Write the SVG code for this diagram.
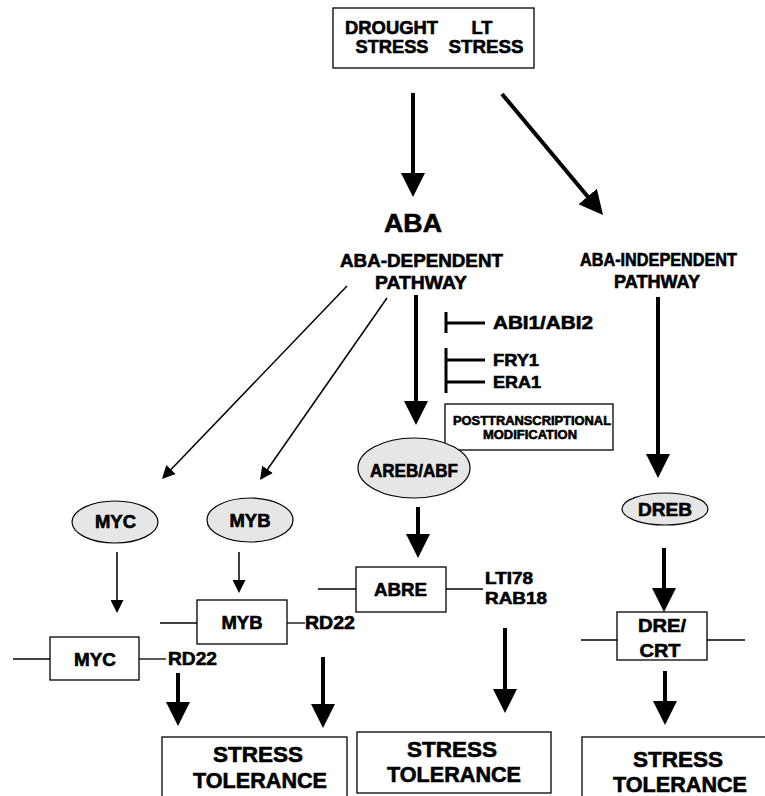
<svg xmlns="http://www.w3.org/2000/svg" width="765" height="796" viewBox="0 0 765 796">
  <defs>
    <style>
      .t { font-family: "Liberation Sans", Arial, sans-serif; font-weight: bold; fill: #000; stroke: #000; stroke-width: 0.6; text-anchor: middle; }
      .l { text-anchor: start; }
      .box { fill: #fff; stroke: #000; stroke-width: 1.3; }
      .ell { fill: #e6e6e6; stroke: #000; stroke-width: 1.2; }
      .thick { stroke: #000; stroke-width: 4; fill: none; }
      .thin { stroke: #000; stroke-width: 1.5; fill: none; }
      .site { stroke: #000; stroke-width: 1.3; fill: none; }
      .bar { stroke: #000; stroke-width: 3; fill: none; }
    </style>
    <marker id="headBig" markerUnits="userSpaceOnUse" markerWidth="24" markerHeight="24" viewBox="0 0 24 24" refX="1" refY="12" orient="auto">
      <path d="M0,0 L24,12 L0,24 z" fill="#000"/>
    </marker>
    <marker id="headSmall" markerUnits="userSpaceOnUse" markerWidth="13" markerHeight="13" viewBox="0 0 13 13" refX="1" refY="6.5" orient="auto">
      <path d="M0,0 L13,6.5 L0,13 z" fill="#000"/>
    </marker>
  </defs>
  <rect width="765" height="796" fill="#fff"/>

  <!-- stress inputs -->
  <g id="stress-input">
    <rect class="box" x="333" y="8" width="201" height="60"/>
    <text class="t" x="391.5" y="34" font-size="18.5" textLength="93" lengthAdjust="spacingAndGlyphs">DROUGHT</text>
    <text class="t" x="482" y="34" font-size="18.5" textLength="21" lengthAdjust="spacingAndGlyphs">LT</text>
    <text class="t" x="392" y="53" font-size="18.5" textLength="73" lengthAdjust="spacingAndGlyphs">STRESS</text>
    <text class="t" x="486" y="53" font-size="18.5" textLength="75" lengthAdjust="spacingAndGlyphs">STRESS</text>
  </g>

  <g id="aba">
    <text class="t" x="413" y="232" font-size="26" textLength="58" lengthAdjust="spacingAndGlyphs">ABA</text>
  </g>

  <g id="aba-dependent">
    <text class="t" x="421.5" y="267" font-size="19" textLength="163" lengthAdjust="spacingAndGlyphs">ABA-DEPENDENT</text>
    <text class="t" x="421" y="289" font-size="19" textLength="92" lengthAdjust="spacingAndGlyphs">PATHWAY</text>
  </g>

  <g id="aba-independent">
    <text class="t" x="658.5" y="266" font-size="17.5" textLength="157" lengthAdjust="spacingAndGlyphs">ABA-INDEPENDENT</text>
    <text class="t" x="657" y="288" font-size="17.5" textLength="86" lengthAdjust="spacingAndGlyphs">PATHWAY</text>
  </g>

  <!-- negative regulators -->
  <g id="abi">
    <text class="t l" x="493" y="329" font-size="18" textLength="100" lengthAdjust="spacingAndGlyphs">ABI1/ABI2</text>
  </g>
  <g id="fry1">
    <text class="t l" x="493" y="366" font-size="17" textLength="46" lengthAdjust="spacingAndGlyphs">FRY1</text>
  </g>
  <g id="era1">
    <text class="t l" x="493" y="388" font-size="17" textLength="48" lengthAdjust="spacingAndGlyphs">ERA1</text>
  </g>

  <g id="posttranscriptional">
    <rect class="box" x="445" y="404" width="168" height="46"/>
    <text class="t" x="532" y="425" font-size="13" textLength="158" lengthAdjust="spacingAndGlyphs">POSTTRANSCRIPTIONAL</text>
    <text class="t" x="530" y="439" font-size="13" textLength="94" lengthAdjust="spacingAndGlyphs">MODIFICATION</text>
  </g>

  <!-- transcription factors -->
  <g id="myc-tf">
    <ellipse class="ell" cx="115" cy="522" rx="43" ry="21"/>
    <text class="t" x="115.5" y="528" font-size="18" textLength="41" lengthAdjust="spacingAndGlyphs">MYC</text>
  </g>
  <g id="myb-tf">
    <ellipse class="ell" cx="250" cy="520" rx="43" ry="22"/>
    <text class="t" x="250" y="527" font-size="18" textLength="41" lengthAdjust="spacingAndGlyphs">MYB</text>
  </g>
  <g id="areb-abf">
    <ellipse class="ell" cx="414" cy="468" rx="56" ry="30"/>
    <text class="t" x="414" y="477" font-size="18" textLength="88" lengthAdjust="spacingAndGlyphs">AREB/ABF</text>
  </g>
  <g id="dreb">
    <ellipse class="ell" cx="665" cy="509" rx="43" ry="16"/>
    <text class="t" x="665" y="516" font-size="19" textLength="54" lengthAdjust="spacingAndGlyphs">DREB</text>
  </g>

  <!-- cis-elements on promoters -->
  <g id="myb-site">
    <line class="site" x1="160" y1="623" x2="197" y2="623"/>
    <line class="site" x1="287" y1="623" x2="305" y2="623"/>
    <rect class="box" x="197" y="600" width="90" height="44"/>
    <text class="t" x="242" y="629" font-size="18" textLength="41" lengthAdjust="spacingAndGlyphs">MYB</text>
    <text class="t l" x="305" y="629" font-size="18.5" textLength="50" lengthAdjust="spacingAndGlyphs">RD22</text>
  </g>
  <g id="myc-site">
    <line class="site" x1="13" y1="659" x2="50" y2="659"/>
    <line class="site" x1="139" y1="659" x2="166" y2="659"/>
    <rect class="box" x="50" y="637" width="89" height="43"/>
    <text class="t" x="95" y="666" font-size="18" textLength="42" lengthAdjust="spacingAndGlyphs">MYC</text>
    <text class="t l" x="168" y="665" font-size="18.5" textLength="49" lengthAdjust="spacingAndGlyphs">RD22</text>
  </g>
  <g id="abre">
    <line class="site" x1="318" y1="589" x2="356" y2="589"/>
    <line class="site" x1="446" y1="589" x2="483" y2="589"/>
    <rect class="box" x="356" y="567" width="90" height="45"/>
    <text class="t" x="400.5" y="596" font-size="18.5" textLength="53" lengthAdjust="spacingAndGlyphs">ABRE</text>
    <text class="t l" x="485" y="584" font-size="17" textLength="48" lengthAdjust="spacingAndGlyphs">LTI78</text>
    <text class="t l" x="485" y="604" font-size="17" textLength="62" lengthAdjust="spacingAndGlyphs">RAB18</text>
  </g>
  <g id="dre-crt">
    <line class="site" x1="581" y1="640" x2="617" y2="640"/>
    <line class="site" x1="707" y1="640" x2="745" y2="640"/>
    <rect class="box" x="617" y="612" width="90" height="48"/>
    <text class="t" x="662" y="632" font-size="19" textLength="48" lengthAdjust="spacingAndGlyphs">DRE/</text>
    <text class="t" x="660" y="657" font-size="19" textLength="41" lengthAdjust="spacingAndGlyphs">CRT</text>
  </g>

  <!-- outcomes -->
  <g id="tolerance-1">
    <rect class="box" x="162" y="737" width="185" height="70"/>
    <text class="t" x="258" y="762" font-size="22" textLength="90" lengthAdjust="spacingAndGlyphs">STRESS</text>
    <text class="t" x="260" y="788" font-size="22" textLength="134" lengthAdjust="spacingAndGlyphs">TOLERANCE</text>
  </g>
  <g id="tolerance-2">
    <rect class="box" x="357" y="732" width="194" height="61"/>
    <text class="t" x="452" y="757" font-size="22" textLength="90" lengthAdjust="spacingAndGlyphs">STRESS</text>
    <text class="t" x="454" y="782" font-size="22" textLength="134" lengthAdjust="spacingAndGlyphs">TOLERANCE</text>
  </g>
  <g id="tolerance-3">
    <rect class="box" x="582" y="737" width="190" height="70"/>
    <text class="t" x="678" y="767" font-size="22" textLength="90" lengthAdjust="spacingAndGlyphs">STRESS</text>
    <text class="t" x="680" y="792" font-size="22" textLength="134" lengthAdjust="spacingAndGlyphs">TOLERANCE</text>
  </g>

  <!-- connectors -->
  <g id="connectors">
    <line class="thick" x1="413" y1="93" x2="413" y2="174" marker-end="url(#headBig)"/>
    <line class="thick" x1="502" y1="94" x2="588.3" y2="197.3" marker-end="url(#headBig)"/>
    <line class="thick" x1="416" y1="295" x2="416" y2="402" marker-end="url(#headBig)"/>
    <line class="thick" x1="418" y1="507" x2="418" y2="535" marker-end="url(#headBig)"/>
    <line class="thick" x1="505" y1="628" x2="505" y2="690" marker-end="url(#headBig)"/>
    <line class="thick" x1="658" y1="297" x2="658" y2="455" marker-end="url(#headBig)"/>
    <line class="thick" x1="664" y1="548" x2="664" y2="589" marker-end="url(#headBig)"/>
    <line class="thick" x1="665" y1="671" x2="665" y2="702" marker-end="url(#headBig)"/>
    <line class="thick" x1="178" y1="673" x2="178" y2="703" marker-end="url(#headBig)"/>
    <line class="thick" x1="323" y1="657" x2="323" y2="705" marker-end="url(#headBig)"/>

    <line class="thin" x1="347" y1="286" x2="170.3" y2="470.3" marker-end="url(#headSmall)"/>
    <line class="thin" x1="387" y1="298" x2="266.9" y2="470.2" marker-end="url(#headSmall)"/>
    <line class="thin" x1="117" y1="552" x2="117" y2="601" marker-end="url(#headSmall)"/>
    <line class="thin" x1="239" y1="552" x2="239" y2="581" marker-end="url(#headSmall)"/>

    <!-- inhibition bars -->
    <line class="bar" x1="446" y1="312" x2="446" y2="333"/>
    <line class="bar" x1="446" y1="323" x2="485" y2="323"/>
    <line class="bar" x1="446" y1="348" x2="446" y2="393"/>
    <line class="bar" x1="446" y1="360" x2="485" y2="360"/>
    <line class="bar" x1="446" y1="382" x2="485" y2="382"/>
  </g>
</svg>
